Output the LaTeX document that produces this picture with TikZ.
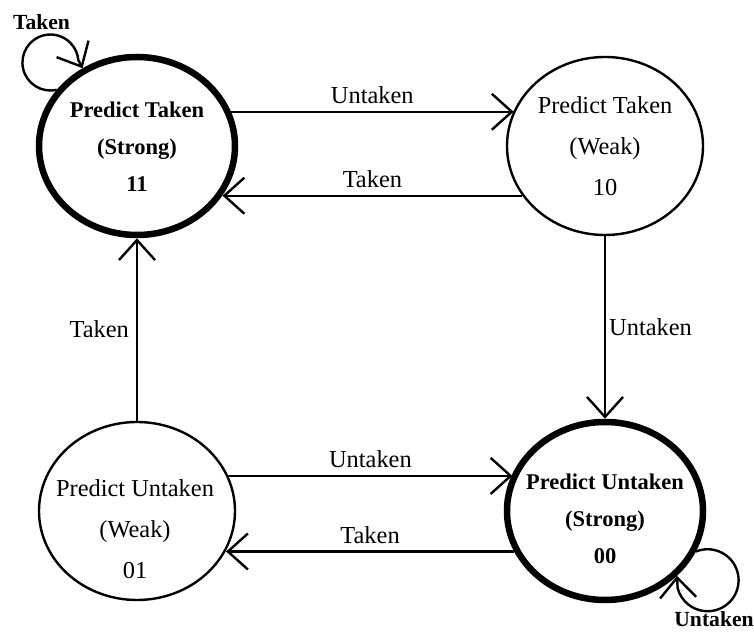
\documentclass[tikz,border=0pt]{standalone}
\usepackage{fontspec}
\setmainfont{Liberation Serif}
\usetikzlibrary{arrows.meta,shapes.geometric,calc}
\begin{document}
\begin{tikzpicture}[x=1pt,y=1pt,
  state/.style={ellipse, draw, inner sep=0pt, minimum width=196pt, minimum height=178pt},
  weak/.style={state, line width=2.4pt},
  strong/.style={state, line width=6.5pt},
  weaktext/.style={align=center, inner sep=0pt, font=\fontsize{24.4}{41}\selectfont},
  strongtext/.style={align=center, inner sep=0pt, font=\bfseries\fontsize{22.5}{37}\selectfont},
  trans/.style={line width=2.4pt, -{Straight Barb[length=20pt,width=36pt]}},
  lbl/.style={inner sep=0pt, font=\fontsize{24.4}{28}\selectfont},
  looplbl/.style={inner sep=0pt, anchor=base, font=\bfseries\fontsize{21.6}{25}\selectfont},
]
\useasboundingbox (0,0) rectangle (754,634);

% the four predictor states
\node[strong] (TL) at (137,488) {};
\node[weak]   (TR) at (605,488) {};
\node[weak]   (BL) at (137,123) {};
\node[strong] (BR) at (605,123) {};

\node[strongtext] (TLt) at ($(TL)+(0,-1)$)    {Predict Taken\\(Strong)\\11};
\node[weaktext]   (TRt) at (TR)               {Predict Taken\\(Weak)\\10};
\node[weaktext]   (BLt) at ($(BL)+(-2,-18)$)  {Predict Untaken\\(Weak)\\01};
\node[strongtext] (BRt) at ($(BR)+(0,-8)$)    {Predict Untaken\\(Strong)\\00};

% horizontal transitions
\draw[trans] (TL.20.5) -- node[lbl, above=7pt] {Untaken} (TL.20.5 -| TR.159.05);
\draw[trans] (TR.211.2) -- node[lbl, above=7pt] {Taken} (TR.211.2 -| TL.-30.4);
\draw[trans] (BL.21.6) -- node[lbl, above=7pt] {Untaken} (BL.21.6 -| BR.158.9);
\draw[trans] (BR.204.3) -- node[lbl, above=7pt] {Taken} (BR.204.3 -| BL.-24.9);

% vertical transitions
\draw[trans] (BL.north) -- node[lbl, left=7pt] {Taken} (TL.south);
\draw[trans] (TR.south) -- node[lbl, right=3pt] {Untaken} (BR.north);

% self loops on the strong states
\draw[trans] (TL.145) arc[start angle=-77, end angle=-355, radius=28] -- (TL.125);
\draw[trans] (BR.-24) arc[start angle=112, end angle=-165, radius=31] -- (BR.-42.5);

\node[looplbl] (TLloop) at (41.5,604) {Taken};
\node[looplbl] (BRloop) at (714,7.3) {Untaken};
\end{tikzpicture}
\end{document}
